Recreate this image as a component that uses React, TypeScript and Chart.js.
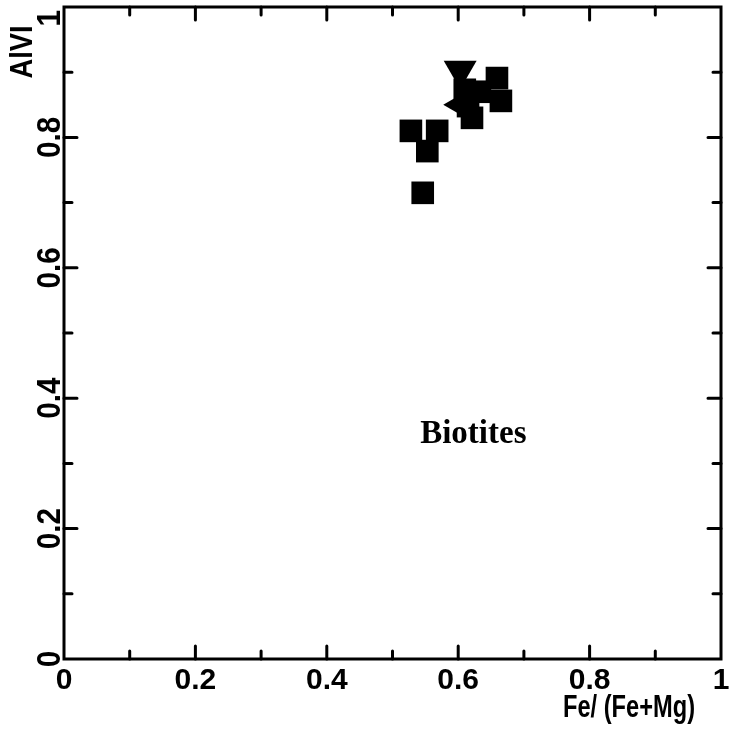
import React, { useEffect, useRef } from "react";
import { Chart, registerables } from "chart.js";

Chart.register(...registerables);

// ---- data ----
const xTickValues = [0, 0.2, 0.4, 0.6, 0.8, 1];
const xTickLabels = ["0", "0.2", "0.4", "0.6", "0.8", "1"];
const yTickValues = [0, 0.2, 0.4, 0.6, 0.8, 1];
const yTickLabels = ["0", "0.2", "0.4", "0.6", "0.8", "1"];
const minorTickValues = [0.1, 0.3, 0.5, 0.7, 0.9];

const squareX = [0.528, 0.568, 0.553, 0.546, 0.659, 0.665, 0.621, 0.61, 0.633, 0.615];
const squareY = [0.81, 0.81, 0.779, 0.715, 0.891, 0.856, 0.83, 0.873, 0.87, 0.848];
const triDownX = [0.603];
const triDownY = [0.903];
const triLeftX = [0.597];
const triLeftY = [0.85];

const xTitle = "Fe/ (Fe+Mg)";
const yTitle = "AlVI";
const annotationText = "Biotites";
const annotationX = 0.623;
const annotationY = 0.331;

const toPoints = (xs: number[], ys: number[]) => xs.map((x, i) => ({ x, y: ys[i] }));

const SANS = '"Liberation Sans", Arial, sans-serif';
const SERIF = '"Liberation Serif", "Times New Roman", serif';

const framePlugin = {
  id: "framePlugin",
  afterDraw(chart: any) {
    const ctx = chart.ctx as CanvasRenderingContext2D;
    const { left, right, top, bottom } = chart.chartArea;
    const xs = chart.scales.x;
    const ys = chart.scales.y;
    ctx.save();
    ctx.strokeStyle = "#000";
    ctx.fillStyle = "#000";
    ctx.lineWidth = 3;
    ctx.lineCap = "round";
    // frame
    ctx.strokeRect(left, top, right - left, bottom - top);
    // ticks (inward, all four sides)
    const drawX = (v: number, len: number) => {
      const px = xs.getPixelForValue(v);
      ctx.beginPath();
      ctx.moveTo(px, bottom);
      ctx.lineTo(px, bottom - len);
      ctx.moveTo(px, top);
      ctx.lineTo(px, top + len);
      ctx.stroke();
    };
    const drawY = (v: number, len: number) => {
      const py = ys.getPixelForValue(v);
      ctx.beginPath();
      ctx.moveTo(left, py);
      ctx.lineTo(left + len, py);
      ctx.moveTo(right, py);
      ctx.lineTo(right - len, py);
      ctx.stroke();
    };
    xTickValues.forEach((v) => { if (v > 0 && v < 1) drawX(v, 13); });
    minorTickValues.forEach((v) => drawX(v, 8));
    yTickValues.forEach((v) => { if (v > 0 && v < 1) drawY(v, 13); });
    minorTickValues.forEach((v) => drawY(v, 8));

    // y tick labels (rotated)
    ctx.font = `bold 33px ${SANS}`;
    ctx.textAlign = "center";
    ctx.textBaseline = "alphabetic";
    yTickValues.forEach((v, i) => {
      const w = ctx.measureText(yTickLabels[i]).width * 0.9;
      const py = Math.max(ys.getPixelForValue(v), w / 2 + 10);
      ctx.save();
      ctx.translate(left - 4, py);
      ctx.rotate(-Math.PI / 2);
      ctx.scale(0.9, 1);
      ctx.fillText(yTickLabels[i], 0, 0);
      ctx.restore();
    });

    // y title
    ctx.save();
    ctx.font = `bold 31px ${SANS}`;
    const yw = ctx.measureText(yTitle).width;
    ctx.translate(32, 52);
    ctx.rotate(-Math.PI / 2);
    ctx.scale(53 / yw, 1);
    ctx.textAlign = "center";
    ctx.fillText(yTitle, 0, 0);
    ctx.restore();

    // x title
    ctx.save();
    ctx.font = `bold 31px ${SANS}`;
    const xw = ctx.measureText(xTitle).width;
    ctx.translate(563, 717);
    ctx.scale(132 / xw, 1);
    ctx.textAlign = "left";
    ctx.fillText(xTitle, 0, 0);
    ctx.restore();

    // annotation
    ctx.font = `bold 33px ${SERIF}`;
    ctx.textAlign = "center";
    ctx.fillText(annotationText, xs.getPixelForValue(annotationX), ys.getPixelForValue(annotationY));
    ctx.restore();
  },
};

export default function App() {
  const ref = useRef<HTMLCanvasElement | null>(null);
  useEffect(() => {
    if (!ref.current) return;
    const chart = new Chart(ref.current, {
      type: "scatter",
      data: {
        datasets: [
          {
            data: toPoints(squareX, squareY),
            pointStyle: "rect",
            pointRadius: 16,
            backgroundColor: "#000",
            borderColor: "#000",
            borderWidth: 0,
          },
          {
            data: toPoints(triDownX, triDownY),
            pointStyle: "triangle",
            pointRotation: 180,
            pointRadius: 19,
            backgroundColor: "#000",
            borderColor: "#000",
            borderWidth: 0,
          },
          {
            data: toPoints(triLeftX, triLeftY),
            pointStyle: "triangle",
            pointRotation: 270,
            pointRadius: 13,
            backgroundColor: "#000",
            borderColor: "#000",
            borderWidth: 0,
          },
        ],
      },
      options: {
        responsive: false,
        animation: false,
        events: [],
        layout: { autoPadding: false, padding: { left: 64, top: 7, right: 26, bottom: 0 } },
        plugins: { legend: { display: false }, tooltip: { enabled: false } },
        scales: {
          x: {
            type: "linear",
            min: 0,
            max: 1,
            grid: { display: false, drawTicks: false },
            border: { display: false },
            afterBuildTicks: (scale: any) => {
              scale.ticks = xTickValues.map((v) => ({ value: v }));
            },
            afterFit: (scale: any) => {
              scale.height = 83;
            },
            ticks: {
              color: "#000",
              padding: 4,
              maxRotation: 0,
              autoSkip: false,
              font: { family: SANS, weight: "bold", size: 30 },
              callback: (v: any) => {
                const i = xTickValues.indexOf(Number(v));
                return i >= 0 ? xTickLabels[i] : "";
              },
            },
          },
          y: {
            type: "linear",
            min: 0,
            max: 1,
            display: false,
          },
        },
      },
      plugins: [framePlugin],
    });
    return () => chart.destroy();
  }, []);
  return (
    <div style={{ position: "absolute", left: 0, top: 0, width: 747, height: 742, background: "#fff" }}>
      <canvas ref={ref} width={747} height={742} style={{ display: "block" }} />
    </div>
  );
}
